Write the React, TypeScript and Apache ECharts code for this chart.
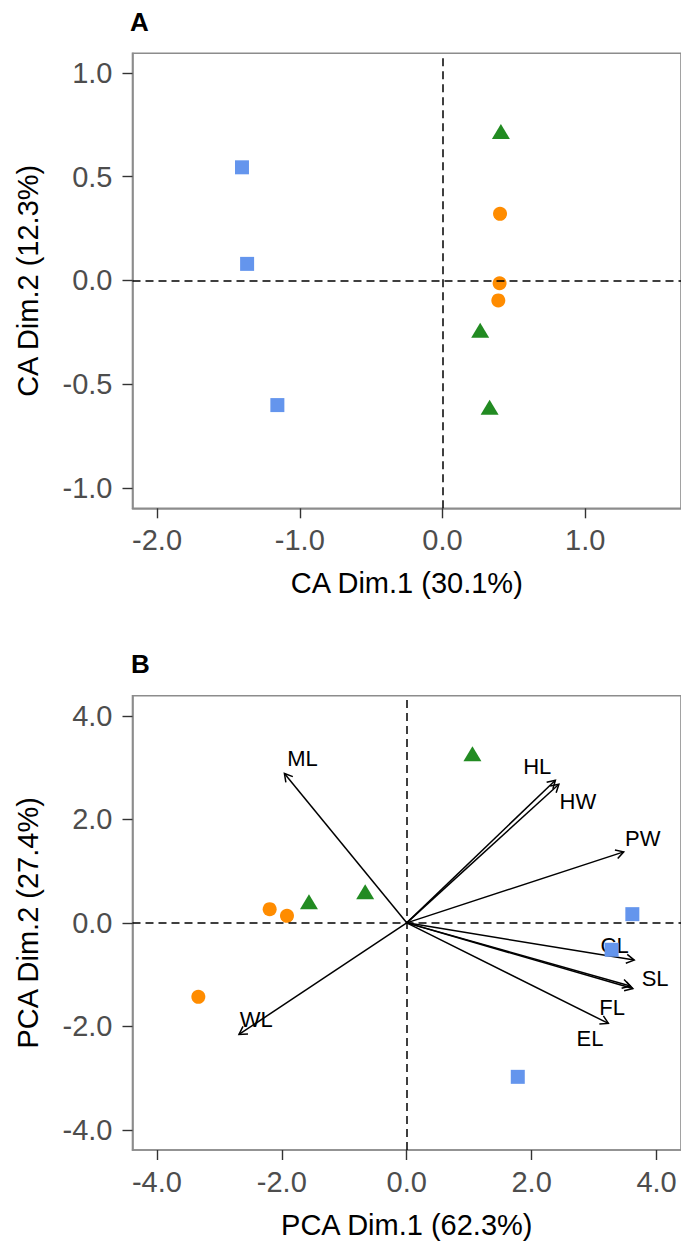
import React, { useEffect, useRef } from 'react';
import * as echarts from 'echarts';

// ---------- Panel A: CA ----------
const caXTicks = [-2, -1, 0, 1];
const caYTicks = [-1, -0.5, 0, 0.5, 1];
const caSquares = [[-1.405, 0.545], [-1.369, 0.08], [-1.157, -0.6]];
const caCircles = [[0.403, 0.321], [0.4, -0.013], [0.391, -0.096]];
const caTriangles = [[0.409, 0.718], [0.264, -0.24], [0.33, -0.61]];

// ---------- Panel B: PCA ----------
const pcaXTicks = [-4, -2, 0, 2, 4];
const pcaYTicks = [-4, -2, 0, 2, 4];
const pcaSquares = [[3.612, 0.168], [3.28, -0.52], [1.778, -2.976]];
const pcaCircles = [[-2.194, 0.265], [-1.917, 0.135], [-3.336, -1.43]];
const pcaTriangles = [[1.052, 3.27], [-0.665, 0.6], [-1.565, 0.406]];

const varNames = ['ML', 'HL', 'HW', 'PW', 'CL', 'SL', 'FL', 'EL', 'WL'];
const varX = [-1.958, 2.38, 2.436, 3.474, 3.642, 3.62, 3.58, 3.228, -2.685];
const varY = [2.887, 2.757, 2.68, 1.372, -0.72, -1.27, -1.22, -1.944, -2.157];
const labelX = [-1.668, 2.089, 2.74, 3.778, 3.329, 3.977, 3.289, 2.933, -2.41];
const labelY = [3.18, 3.028, 2.338, 1.631, -0.444, -1.082, -1.629, -2.244, -1.867];

const FONT = 'Liberation Sans, Arial, Helvetica, sans-serif';
const ORANGE = '#FF8C00';
const GREEN = '#228B22';
const BLUE = '#6495ED';

function makeXAxis(gridIndex: number, min: number, max: number, ticks: number[], name: string) {
  return {
    gridIndex, type: 'value', min, max,
    axisLine: { show: true, onZero: false, lineStyle: { color: '#8c8c8c', width: 1.6 } },
    axisTick: { show: true, length: 10, customValues: ticks, lineStyle: { color: '#333', width: 1.4 } },
    axisLabel: { customValues: ticks, formatter: (v: number) => v.toFixed(1), fontSize: 29, color: '#4d4d4d', margin: 17, fontFamily: FONT },
    splitLine: { show: false },
    name, nameLocation: 'middle', nameGap: 60,
    nameTextStyle: { fontSize: 29, color: '#000', fontFamily: FONT },
  };
}
function makeYAxis(gridIndex: number, min: number, max: number, ticks: number[], name: string) {
  return {
    gridIndex, type: 'value', min, max,
    axisLine: { show: true, onZero: false, lineStyle: { color: '#8c8c8c', width: 1.6 } },
    axisTick: { show: true, length: 10, customValues: ticks, lineStyle: { color: '#333', width: 1.4 } },
    axisLabel: { customValues: ticks, formatter: (v: number) => v.toFixed(1), fontSize: 29, color: '#4d4d4d', margin: 20, fontFamily: FONT },
    splitLine: { show: false },
    name, nameLocation: 'middle', nameGap: 90,
    nameTextStyle: { fontSize: 29, color: '#000', fontFamily: FONT },
  };
}

const refLines = {
  silent: true, symbol: 'none', label: { show: false },
  lineStyle: { color: '#000', width: 1.5, type: [8, 5] },
  data: [{ xAxis: 0 }, { yAxis: 0 }],
};

function pointSeries(idx: number, data: number[][], symbol: string, size: any, color: string, withLines: boolean) {
  const s: any = {
    type: 'scatter', xAxisIndex: idx, yAxisIndex: idx, data, symbol, symbolSize: size,
    itemStyle: { color, opacity: 1 }, silent: true,
  };
  if (withLines) s.markLine = refLines;
  return s;
}

export default function App() {
  const ref = useRef<HTMLDivElement>(null);
  useEffect(() => {
    const chart = echarts.init(ref.current!, null, { renderer: 'svg' });
    const arrowData = varX.map((x, i) => [x, varY[i]]);
    const labelData = labelX.map((x, i) => [x, labelY[i]]);
    const option: any = {
      animation: false,
      backgroundColor: '#fff',
      graphic: [
        { type: 'text', x: 130, y: 22, style: { text: 'A', fontSize: 26, fontWeight: 'bold', fontFamily: FONT, fill: '#000', verticalAlign: 'middle' } },
        { type: 'text', x: 131, y: 664, style: { text: 'B', fontSize: 26, fontWeight: 'bold', fontFamily: FONT, fill: '#000', verticalAlign: 'middle' } },
      ],
      grid: [
        { left: 132.5, top: 53.3, right: -2, height: 455, show: true, borderColor: '#8c8c8c', borderWidth: 1.6, backgroundColor: 'transparent' },
        { left: 132.5, top: 695.7, right: -2, height: 454.3, show: true, borderColor: '#8c8c8c', borderWidth: 1.6, backgroundColor: 'transparent' },
      ],
      xAxis: [
        makeXAxis(0, -2.172, 1.671, caXTicks, 'CA Dim.1 (30.1%)'),
        makeXAxis(1, -4.39, 4.391, pcaXTicks, 'PCA Dim.1 (62.3%)'),
      ],
      yAxis: [
        makeYAxis(0, -1.097, 1.094, caYTicks, 'CA Dim.2 (12.3%)'),
        makeYAxis(1, -4.39, 4.39, pcaYTicks, 'PCA Dim.2 (27.4%)'),
      ],
      series: [
        pointSeries(0, caSquares, 'rect', 14, BLUE, true),
        pointSeries(0, caCircles, 'circle', 14, ORANGE, false),
        pointSeries(0, caTriangles, 'triangle', [18, 15], GREEN, false),
        pointSeries(1, pcaSquares, 'rect', 14, BLUE, true),
        pointSeries(1, pcaCircles, 'circle', 14, ORANGE, false),
        pointSeries(1, pcaTriangles, 'triangle', [18, 15], GREEN, false),
        {
          type: 'custom', xAxisIndex: 1, yAxisIndex: 1, data: arrowData, silent: true,
          encode: { x: 0, y: 1 },
          renderItem: (params: any, api: any) => {
            const o = api.coord([0, 0]);
            const t = api.coord([api.value(0), api.value(1)]);
            const ang = Math.atan2(t[1] - o[1], t[0] - o[0]);
            const L = 9, a = Math.PI / 6;
            const p1 = [t[0] - L * Math.cos(ang - a), t[1] - L * Math.sin(ang - a)];
            const p2 = [t[0] - L * Math.cos(ang + a), t[1] - L * Math.sin(ang + a)];
            return {
              type: 'group',
              children: [
                { type: 'line', shape: { x1: o[0], y1: o[1], x2: t[0], y2: t[1] }, style: { stroke: '#000', lineWidth: 1.5 } },
                { type: 'polyline', shape: { points: [p1, t, p2] }, style: { stroke: '#000', lineWidth: 1.5, fill: null } },
              ],
            };
          },
        },
        {
          type: 'custom', xAxisIndex: 1, yAxisIndex: 1, data: labelData, silent: true,
          encode: { x: 0, y: 1 },
          renderItem: (params: any, api: any) => {
            const p = api.coord([api.value(0), api.value(1)]);
            return {
              type: 'text', x: p[0], y: p[1],
              style: { text: varNames[params.dataIndex], fontSize: 22, fontFamily: FONT, fill: '#000', align: 'center', verticalAlign: 'middle' },
            };
          },
        },
      ],
    };
    chart.setOption(option);
    return () => chart.dispose();
  }, []);
  return <div ref={ref} style={{ position: 'absolute', left: 0, top: 0, width: 681, height: 1241, background: '#fff' }} />;
}
